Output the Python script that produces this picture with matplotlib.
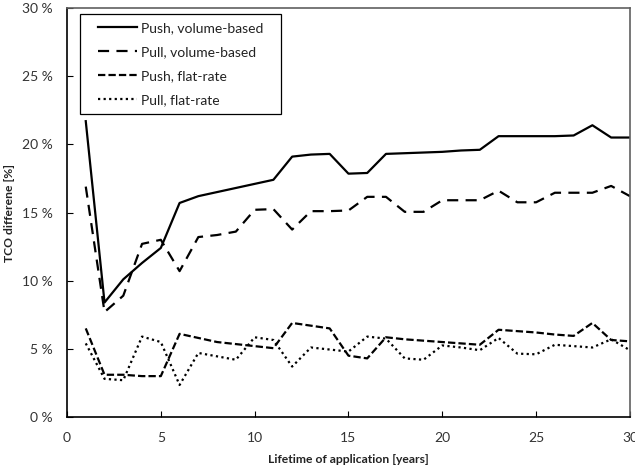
import numpy as np
import matplotlib.pyplot as plt
from matplotlib.patches import Rectangle
from matplotlib.transforms import IdentityTransform

plt.rcParams['font.family'] = ['Lato', 'DejaVu Sans']

# Lebensdauer in Jahren
years = list(range(1, 31))

push_volume = [21.7, 8.4, 10.1, 11.3, 12.4, 15.7, 16.2, 16.5, 16.8, 17.1,
               17.4, 19.1, 19.25, 19.3, 17.85, 17.9, 19.3, 19.35, 19.4, 19.45,
               19.55, 19.6, 20.6, 20.6, 20.6, 20.6, 20.65, 21.4, 20.5, 20.5]
pull_volume = [16.9, 7.7, 8.9, 12.7, 13.0, 10.7, 13.2, 13.35, 13.6, 15.2,
               15.25, 13.75, 15.1, 15.1, 15.15, 16.15, 16.15, 15.05, 15.05, 15.9,
               15.9, 15.9, 16.6, 15.75, 15.75, 16.45, 16.45, 16.45, 16.95, 16.2]
push_flat = [6.5, 3.1, 3.1, 3.0, 3.0, 6.1, 5.8, 5.5, 5.35, 5.2,
             5.05, 6.9, 6.7, 6.5, 4.5, 4.3, 5.85, 5.7, 5.6, 5.5,
             5.4, 5.3, 6.4, 6.3, 6.2, 6.05, 5.95, 6.9, 5.65, 5.55]
pull_flat = [5.4, 2.8, 2.7, 5.9, 5.5, 2.35, 4.7, 4.45, 4.2, 5.85,
             5.65, 3.7, 5.1, 4.95, 4.8, 5.9, 5.75, 4.3, 4.2, 5.25,
             5.1, 4.9, 5.8, 4.65, 4.6, 5.3, 5.2, 5.1, 5.7, 4.9]

x_ticks = [0, 5, 10, 15, 20, 25, 30]
y_ticks = [0, 5, 10, 15, 20, 25, 30]

fig = plt.figure(figsize=(6.35, 4.71), dpi=100)
ax = fig.add_axes([0.1055, 0.1146, 0.8865, 0.8684])

ax.plot(years, push_volume, color='black', lw=1.6, label='Push, volume-based')
ax.plot(years, pull_volume, color='black', lw=1.6, dashes=(5, 3.3), label='Pull, volume-based')
ax.plot(years, push_flat, color='black', lw=1.6, dashes=(3.3, 1.4), label='Push, flat-rate')
ax.plot(years, pull_flat, color='black', lw=1.6, dashes=(1, 1.5), label='Pull, flat-rate')

ax.set_xlim(0, 30)
ax.set_ylim(0, 30)
ax.set_xticks(x_ticks)
ax.set_yticks(y_ticks)
ax.set_yticklabels([f'{v} %' for v in y_ticks])
ax.tick_params(direction='in', length=4, labelsize=10, color='black',
               labelcolor='#333333')
ax.tick_params(axis='x', pad=11)
ax.tick_params(axis='y', pad=10)

for s in ['left', 'bottom']:
    ax.spines[s].set_color('black')
    ax.spines[s].set_linewidth(1.2)
for s in ['top', 'right']:
    ax.spines[s].set_color('#606060')
    ax.spines[s].set_linewidth(1.2)

ax.set_xlabel('Lifetime of application [years]', fontsize=8.7, fontweight='bold',
              labelpad=7, color='#222222')
ax.set_ylabel('TCO differene [%]', fontsize=8.7, fontweight='bold',
              labelpad=5, color='#222222')

# Legende ohne Rahmen, Rahmen mit breitem Innenabstand wie in Excel
leg = ax.legend(loc='upper left', bbox_to_anchor=(0.055, 0.965), fontsize=10,
                frameon=False, handlelength=2.8, handletextpad=0.3,
                labelspacing=0.85, borderpad=0, borderaxespad=0)
for t in leg.get_texts():
    t.set_color('#222222')

fig.canvas.draw()
bb = leg.get_window_extent(fig.canvas.get_renderer())
frame = Rectangle((bb.x0 - 18, bb.y0 - 8), bb.width + 36, bb.height + 16,
                  transform=IdentityTransform(), fill=False,
                  edgecolor='black', linewidth=0.9, zorder=5)
fig.add_artist(frame)

fig.savefig('out.png', dpi=100)
